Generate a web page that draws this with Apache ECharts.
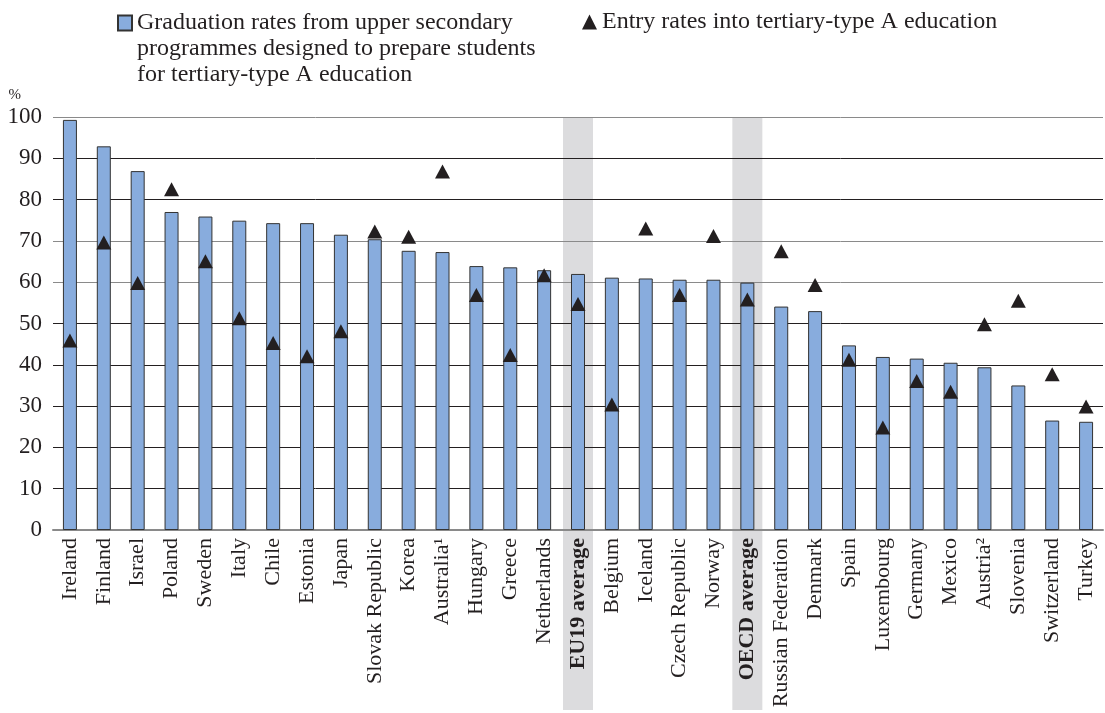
<!DOCTYPE html>
<html>
<head>
<meta charset="utf-8">
<script src="https://cdn.jsdelivr.net/npm/echarts@6/dist/echarts.min.js"></script>
<style>html,body{margin:0;padding:0;background:#fff}#c{width:1105px;height:713px}</style>
</head>
<body>
<div id="c"></div>
<script>
const categories = ["Ireland","Finland","Israel","Poland","Sweden","Italy","Chile","Estonia","Japan","Slovak Republic","Korea","Australia¹","Hungary","Greece","Netherlands","EU19 average","Belgium","Iceland","Czech Republic","Norway","OECD average","Russian Federation","Denmark","Spain","Luxembourg","Germany","Mexico","Austria²","Slovenia","Switzerland","Turkey"];
const graduationRates = [99.3,92.9,86.9,77.0,75.9,74.9,74.3,74.3,71.5,70.4,67.6,67.3,63.9,63.6,62.9,62.0,61.1,60.9,60.6,60.6,59.9,54.1,53.0,44.7,41.9,41.5,40.5,39.4,35.0,26.5,26.2];
const entryRates = [45.9,69.6,59.8,82.5,65.1,51.3,45.3,42.1,48.1,72.3,71.0,86.8,56.9,42.4,61.7,54.7,30.4,73.0,56.9,71.2,55.8,67.5,59.3,41.2,24.8,36.1,33.5,49.8,55.5,37.7,29.9];
const highlighted = ["EU19 average","OECD average"];
const yTicks = [0,10,20,30,40,50,60,70,80,90,100];
const seriesNames = ["Graduation rates from upper secondary\nprogrammes designed to prepare students\nfor tertiary-type A education","Entry rates into tertiary-type A education"];

const FONT = "Liberation Serif";
const chart = echarts.init(document.getElementById('c'));
const option = {
  backgroundColor: '#fff',
  textStyle: {fontFamily: FONT, color: '#231f20'},
  grid: {left: 53, right: 2, top: 117, bottom: 183, containLabel: false},
  legend: [
    {data: [{name: seriesNames[0], icon: 'rect'}], left: 112, top: -47, itemWidth: 14, itemHeight: 15, itemGap: 0, selectedMode: false,
     formatter: n => '\n\n' + n,
     textStyle: {fontFamily: FONT, fontSize: 24, color: '#231f20', lineHeight: 26}},
    {data: [{name: seriesNames[1], icon: 'triangle'}], left: 577, top: 4, itemWidth: 15, itemHeight: 15, itemGap: 0, selectedMode: false,
     textStyle: {fontFamily: FONT, fontSize: 24, color: '#231f20', lineHeight: 26}}
  ],
  xAxis: {
    type: 'category', data: categories,
    axisLine: {lineStyle: {color: '#8a8a8a', width: 2}},
    axisTick: {show: false},
    axisLabel: {
      rotate: 90, interval: 0, margin: 8, fontFamily: FONT, fontSize: 22, color: '#231f20',
      formatter: v => highlighted.includes(v) ? '{b|' + v + '}' : v,
      rich: {b: {fontFamily: FONT, fontSize: 22, fontWeight: 'bold', color: '#231f20'}}
    }
  },
  yAxis: {
    type: 'value', min: 0, max: 100, interval: 10,
    name: '%', nameLocation: 'end', nameGap: 14,
    nameTextStyle: {fontFamily: FONT, fontSize: 15, color: '#231f20', align: 'right', padding: [0, 32, 0, 0]},
    axisLine: {show: false}, axisTick: {show: false},
    axisLabel: {margin: 11, fontFamily: FONT, fontSize: 23, color: '#231f20',
      formatter: v => yTicks.includes(v) ? String(v) : ''},
    splitLine: {lineStyle: {color: ['#8a8a8a','#231f20','#231f20','#231f20','#231f20','#231f20','#8a8a8a','#8a8a8a','#231f20','#231f20','#8a8a8a'], width: 1}}
  },
  series: [
    {name: seriesNames[0], type: 'bar', data: graduationRates, barWidth: 14,
     itemStyle: {color: '#88acdd', borderColor: '#333', borderWidth: 1}, z: 2},
    {name: seriesNames[1], type: 'scatter', data: entryRates, symbol: 'triangle', symbolSize: [15, 14],
     itemStyle: {color: '#231f20', opacity: 1}, z: 3}
  ]
};
chart.setOption(option);
const bands = highlighted.map(name => {
  const x = chart.convertToPixel({xAxisIndex: 0}, name);
  const yTop = chart.convertToPixel({yAxisIndex: 0}, 100);
  return {type: 'rect', z: -1, silent: true,
    shape: {x: x - 15, y: yTop, width: 30, height: 710 - yTop},
    style: {fill: '#dcdcde'}};
});
chart.setOption({graphic: bands});
</script>
</body>
</html>
